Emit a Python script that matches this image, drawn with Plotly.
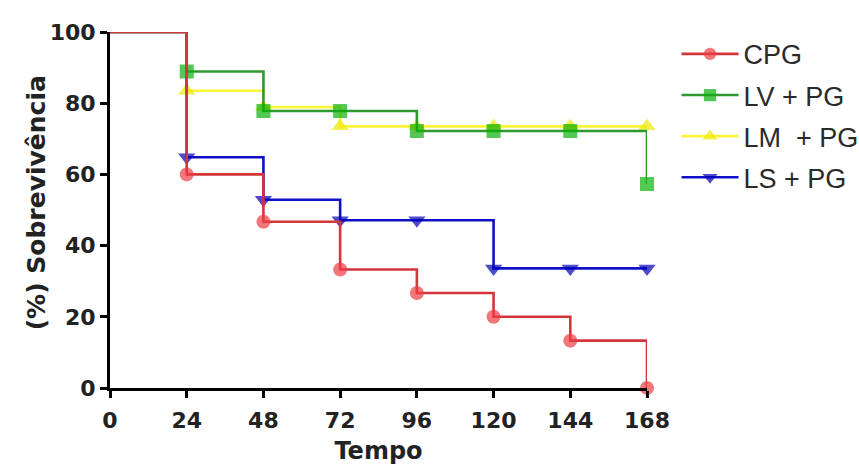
import plotly.graph_objects as go

# ---- data ----
tempo = [0, 24, 48, 72, 96, 120, 144, 168]
cpg = [100, 60.0, 46.7, 33.3, 26.7, 20.0, 13.3, 0.0]
lv_pg = [100, 88.9, 77.8, 77.8, 72.2, 72.2, 72.2, 57.3]
lm_pg = [100, 83.5, 78.9, 73.5, 73.5, 73.5, 73.5, 73.5]
ls_pg = [100, 64.8, 52.9, 47.1, 47.1, 33.6, 33.6, 33.6]
x_ticks = [0, 24, 48, 72, 96, 120, 144, 168]
y_ticks = [0, 20, 40, 60, 80, 100]

series = [
    # name, values, line colour, marker colour, symbol, marker size, legend rank
    ("LM  + PG", lm_pg, "#F8F53A", "#EEE800", "triangle-up", 15, 3),
    ("LS + PG", ls_pg, "#1010C8", "#0000B8", "triangle-down", 15, 4),
    ("LV + PG", lv_pg, "#2E9A2E", "#0CB00C", "square", 14, 2),
    ("CPG", cpg, "#D2363A", "#EC3C42", "circle", 14, 1),
]

fig = go.Figure()
for name, vals, lc, mc, sym, ms, rank in series:
    sizes = [0] + [ms] * (len(tempo) - 1)
    fig.add_trace(go.Scatter(
        x=tempo, y=vals, name=name, mode="lines+markers",
        line=dict(color=lc, width=2.6, shape="hv"),
        marker=dict(color=mc, symbol=sym, size=sizes, line=dict(width=0)),
        legendrank=rank, legendgroup=name, cliponaxis=False,
    ))

axis_font = dict(family="DejaVu Sans", size=22, color="#222222", weight="bold")
title_font = dict(family="DejaVu Sans", size=24, color="#222222", weight="bold")

fig.update_layout(
    width=859, height=466,
    margin=dict(l=110, r=212, t=32, b=78, autoexpand=False),
    paper_bgcolor="white", plot_bgcolor="white",
    showlegend=True,
    legend=dict(
        x=1.055, xanchor="left", y=1.006, yanchor="top",
        font=dict(family="Liberation Sans", size=27, color="#2a2a2a"),
        traceorder="grouped", tracegroupgap=3,
        bgcolor="rgba(0,0,0,0)", itemwidth=57,
    ),
    xaxis=dict(
        range=[0, 168], tickmode="array", tickvals=x_ticks,
        ticktext=[str(v) for v in x_ticks],
        showline=True, linecolor="black", linewidth=3,
        ticks="outside", ticklen=7, tickwidth=3, tickcolor="black",
        ticklabelstandoff=4,
        showgrid=False, zeroline=False, tickfont=axis_font,
        title=dict(text="Tempo", font=title_font, standoff=10),
    ),
    yaxis=dict(
        range=[0, 100], tickmode="array", tickvals=y_ticks,
        ticktext=[str(v) for v in y_ticks],
        showline=True, linecolor="black", linewidth=3,
        ticks="outside", ticklen=7, tickwidth=3, tickcolor="black",
        showgrid=False, zeroline=False, tickfont=axis_font,
    ),
    annotations=[dict(
        text="(%) Sobrevivência", textangle=-90, showarrow=False,
        xref="paper", yref="paper", x=-0.137, y=0.52,
        xanchor="center", yanchor="middle",
        font=dict(family="DejaVu Sans", size=25, color="#222222", weight="bold"),
    )],
)

fig.write_html("out.html")
